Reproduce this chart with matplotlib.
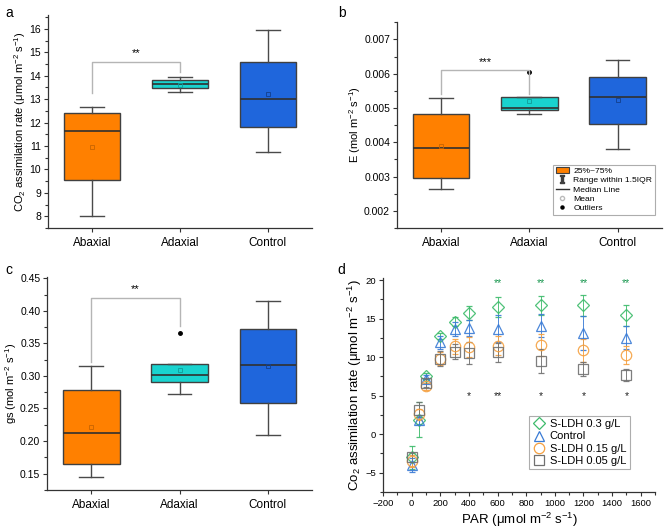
import matplotlib
matplotlib.use('Agg')
import matplotlib.pyplot as plt
from matplotlib.patches import Patch
from matplotlib.lines import Line2D
from matplotlib.ticker import MultipleLocator, FormatStrFormatter

plt.rcParams['font.family'] = ['Liberation Sans', 'DejaVu Sans']
plt.rcParams['mathtext.fontset'] = 'custom'
plt.rcParams['mathtext.rm'] = 'Liberation Sans'
plt.rcParams['mathtext.it'] = 'Liberation Sans:italic'
plt.rcParams['mathtext.tt'] = 'DejaVu Sans Mono'

groups = ['Abaxial', 'Adaxial', 'Control']
box_colors = ['#ff8000', '#19d3cf', '#1f66dc']
mean_colors = ['#c86400', '#109c99', '#123f8c']

# panel a: CO2 assimilation rate
a_low = [8.0, 13.31, 10.76]
a_q1 = [9.55, 13.46, 11.8]
a_med = [11.62, 13.65, 13.0]
a_q3 = [12.42, 13.81, 14.57]
a_high = [12.67, 13.95, 15.97]
a_mean = [10.97, 13.6, 13.2]
a_out = [[], [], []]

# panel b: E
b_low = [0.00265, 0.00482, 0.0038]
b_q1 = [0.00297, 0.00493, 0.00453]
b_med = [0.00383, 0.00499, 0.00533]
b_q3 = [0.00482, 0.00532, 0.00589]
b_high = [0.00528, 0.00532, 0.0064]
b_mean = [0.0039, 0.00521, 0.00522]
b_out = [[], [0.00604], []]

# panel c: gs
c_low = [0.144, 0.273, 0.209]
c_q1 = [0.165, 0.29, 0.258]
c_med = [0.213, 0.301, 0.317]
c_q3 = [0.278, 0.318, 0.372]
c_high = [0.315, 0.318, 0.415]
c_mean = [0.221, 0.309, 0.315]
c_out = [[], [0.366], []]

# panel d: light response
par = [0, 50, 100, 200, 300, 400, 600, 900, 1200, 1500]
d_names = ['S-LDH 0.3 g/L', 'Control', 'S-LDH 0.15 g/L', 'S-LDH 0.05 g/L']
d_vals = {
    'S-LDH 0.3 g/L': [-3.0, 1.9, 7.5, 12.7, 14.6, 15.7, 16.5, 16.7, 16.7, 15.4],
    'Control': [-4.0, 1.9, 7.2, 11.9, 13.7, 13.8, 13.7, 14.1, 13.1, 12.5],
    'S-LDH 0.15 g/L': [-3.5, 2.6, 6.2, 9.8, 11.4, 11.3, 11.5, 11.6, 10.9, 10.3],
    'S-LDH 0.05 g/L': [-3.0, 3.2, 6.6, 9.8, 10.7, 10.5, 10.6, 9.5, 8.4, 7.7],
}
d_err = {
    'S-LDH 0.3 g/L': [1.5, 2.3, 0.4, 0.4, 0.6, 0.9, 1.3, 1.2, 1.4, 1.3],
    'Control': [0.9, 0.6, 0.5, 0.8, 0.9, 1.0, 1.8, 1.5, 2.2, 1.5],
    'S-LDH 0.15 g/L': [0.8, 0.7, 0.5, 0.8, 1.0, 1.3, 1.2, 1.4, 1.5, 1.2],
    'S-LDH 0.05 g/L': [0.6, 1.0, 0.5, 1.0, 1.0, 1.4, 1.2, 1.5, 0.9, 0.8],
}
d_markers = ['D', '^', 'o', 's']
d_colors = ['#3dbb6b', '#3a7bd5', '#f5a040', '#707070']
star_top_x = [600, 900, 1200, 1500]
star_top = ['**', '**', '**', '**']
star_bot_x = [400, 600, 900, 1200, 1500]
star_bot = ['*', '**', '*', '*', '*']

axis_col = '#333333'


def style_axes(ax):
    for s in ['top', 'right']:
        ax.spines[s].set_visible(False)
    for s in ['left', 'bottom']:
        ax.spines[s].set_color(axis_col)
        ax.spines[s].set_linewidth(0.9)
    ax.tick_params(which='both', direction='out', color=axis_col, width=0.8)
    ax.tick_params(which='major', length=3)
    ax.tick_params(which='minor', length=2)


def box_panel(ax, low, q1, med, q3, high, mean, out, ylabel, ylim, major, bracket, star_y, stars):
    stats = []
    for i in range(3):
        stats.append(dict(whislo=low[i], q1=q1[i], med=med[i], q3=q3[i], whishi=high[i],
                          mean=mean[i], fliers=out[i], label=groups[i]))
    res = ax.bxp(stats, positions=[1, 2, 3], widths=0.64, capwidths=0.27,
                 patch_artist=True, showmeans=True,
                 boxprops=dict(edgecolor='#404040', linewidth=1.0),
                 whiskerprops=dict(color='#4a4a4a', linewidth=1.0),
                 capprops=dict(color='#4a4a4a', linewidth=1.0),
                 medianprops=dict(color='#303030', linewidth=1.2),
                 meanprops=dict(marker='s', markersize=3, markerfacecolor='none', markeredgewidth=0.6),
                 flierprops=dict(marker='o', markersize=2.5, markerfacecolor='k', markeredgecolor='k'))
    for i, b in enumerate(res['boxes']):
        b.set_facecolor(box_colors[i])
        res['means'][i].set_markeredgecolor(mean_colors[i])
    l, t, r = bracket
    ax.plot([1, 1, 2, 2], [l, t, t, r], color='#b5b5b5', lw=1.0)
    ax.text(1.5, star_y, stars, ha='center', va='center', fontsize=8)
    ax.set_xlim(0.5, 3.5)
    ax.set_ylim(*ylim)
    ax.yaxis.set_major_locator(MultipleLocator(major))
    ax.yaxis.set_minor_locator(MultipleLocator(major / 2))
    ax.set_ylabel(ylabel, fontsize=8, labelpad=1)
    ax.tick_params(axis='y', labelsize=7.5, pad=2)
    ax.tick_params(axis='x', labelsize=8.5)
    style_axes(ax)


fig = plt.figure(figsize=(6.65, 5.29), dpi=100)
ax_a = fig.add_axes([0.072, 0.569, 0.397, 0.403])
ax_b = fig.add_axes([0.597, 0.569, 0.398, 0.389])
ax_c = fig.add_axes([0.071, 0.074, 0.398, 0.403])
ax_d = fig.add_axes([0.576, 0.070, 0.409, 0.405])

box_panel(ax_a, a_low, a_q1, a_med, a_q3, a_high, a_mean, a_out,
          'CO$_2$ assimilation rate (μmol m$^{-2}$ s$^{-1}$)', (7.5, 16.6), 1,
          (13.28, 14.6, 14.15), 14.95, '**')
box_panel(ax_b, b_low, b_q1, b_med, b_q3, b_high, b_mean, b_out,
          'E (mol m$^{-2}$ s$^{-1}$)', (0.0015, 0.0075), 0.001,
          (0.00542, 0.00612, 0.00542), 0.00634, '***')
box_panel(ax_c, c_low, c_q1, c_med, c_q3, c_high, c_mean, c_out,
          'gs (mol m$^{-2}$ s$^{-1}$)', (0.125, 0.4525), 0.05,
          (0.322, 0.420, 0.376), 0.433, '**')
ax_b.yaxis.set_major_formatter(FormatStrFormatter('%.3f'))
ax_c.yaxis.set_major_formatter(FormatStrFormatter('%.2f'))

# legend for b
leg_handles = [
    Patch(facecolor=box_colors[0], edgecolor='#404040', linewidth=0.8),
    Line2D([], [], ls='None', marker=r'$\mathtt{I}$', color='#404040', markersize=6),
    Line2D([], [], color='#303030', lw=1.0),
    Line2D([], [], ls='None', marker='o', markerfacecolor='none', markeredgecolor='#bbbbbb', markersize=3),
    Line2D([], [], ls='None', marker='o', color='k', markersize=2.2),
]
leg_labels = ['25%~75%', 'Range within 1.5IQR', 'Median Line', 'Mean', 'Outliers']
lg = ax_b.legend(leg_handles, leg_labels, loc='lower left', bbox_to_anchor=(0.574, 0.045),
                 fontsize=6.1, frameon=True, fancybox=False, edgecolor='#999999',
                 handlelength=1.6, handletextpad=0.5, labelspacing=0.15, borderpad=0.3)
lg.get_frame().set_linewidth(0.8)

# panel d
d_handles = []
for i, name in enumerate(d_names):
    ms = 7.5 if d_markers[i] != 'D' else 6.5
    ax_d.errorbar(par, d_vals[name], yerr=d_err[name], fmt=d_markers[i], color=d_colors[i],
                  mfc='none', mec=d_colors[i], ms=ms, mew=0.9,
                  ecolor=d_colors[i], elinewidth=0.7, capsize=2.5, capthick=0.7, alpha=0.9)
    d_handles.append(Line2D([], [], ls='None', marker=d_markers[i], mfc='none',
                            mec=d_colors[i], ms=ms, mew=0.9))
for x, s in zip(star_top_x, star_top):
    ax_d.text(x, 19.6, s, ha='center', va='center', fontsize=7.5, color='#1a9850')
for x, s in zip(star_bot_x, star_bot):
    ax_d.text(x, 4.9, s, ha='center', va='center', fontsize=7.5, color='#222222')
ax_d.set_xlim(-200, 1700)
ax_d.set_ylim(-7.5, 20.3)
ax_d.xaxis.set_major_locator(MultipleLocator(200))
ax_d.xaxis.set_minor_locator(MultipleLocator(100))
ax_d.yaxis.set_major_locator(MultipleLocator(5))
ax_d.yaxis.set_minor_locator(MultipleLocator(2.5))
ax_d.set_xlabel('PAR (μmol m$^{-2}$ s$^{-1}$)', fontsize=9.5, labelpad=2)
ax_d.set_ylabel('Co$_2$ assimilation rate (μmol m$^{-2}$ s$^{-1}$)', fontsize=9.5, labelpad=1)
ax_d.tick_params(labelsize=6.8, pad=2)
style_axes(ax_d)
lg2 = ax_d.legend(d_handles, d_names, loc='lower left', bbox_to_anchor=(0.515, 0.08), fontsize=8,
                  frameon=True, fancybox=False, edgecolor='#999999', handletextpad=0.4,
                  labelspacing=0.2, borderpad=0.3, handlelength=1.2)
lg2.get_frame().set_linewidth(0.8)

for lab, x, y in [('a', 0.008, 0.975), ('b', 0.508, 0.975), ('c', 0.008, 0.49), ('d', 0.508, 0.49)]:
    fig.text(x, y, lab, fontsize=10, ha='left', va='center')

fig.savefig('out.png', dpi=100)
